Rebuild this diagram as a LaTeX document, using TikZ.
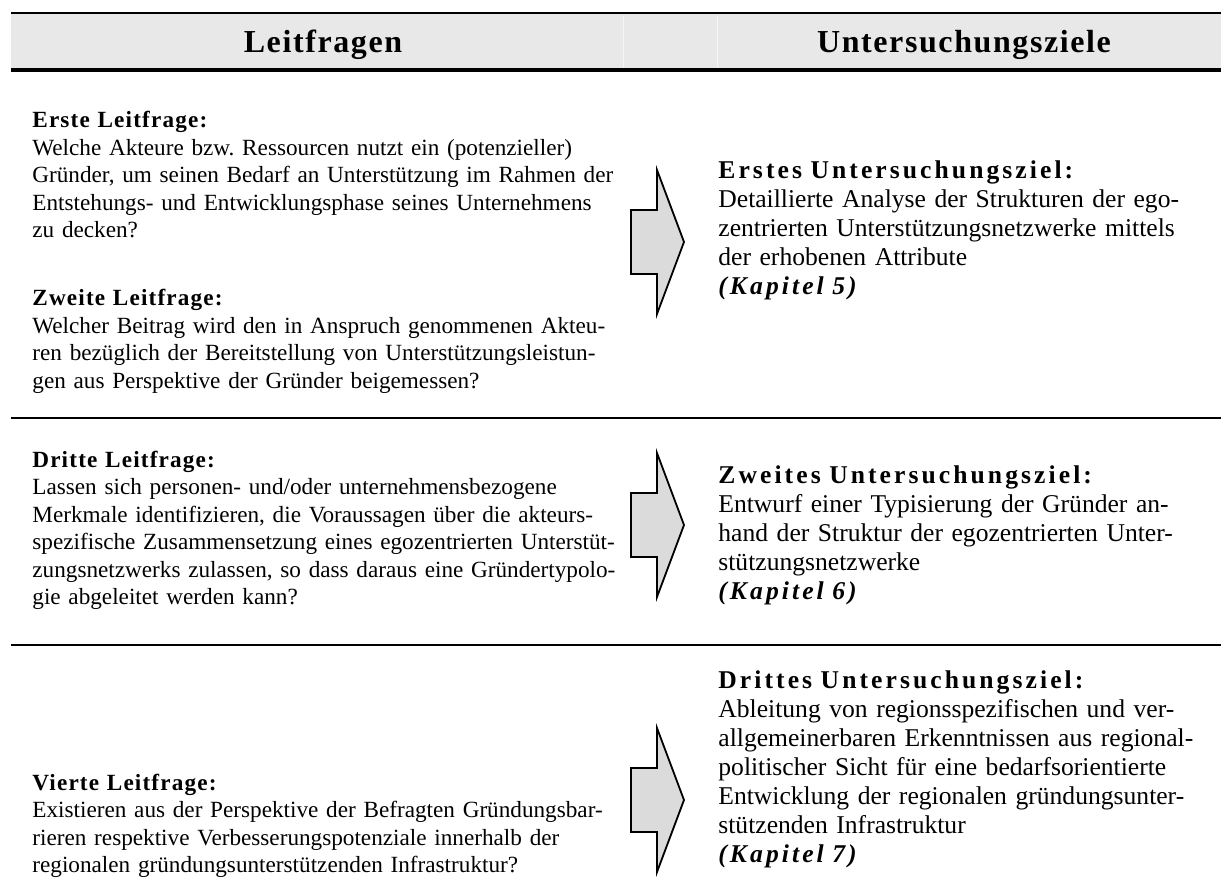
\documentclass[tikz,border=0pt]{standalone}
\usepackage{fontspec}
\setmainfont{Liberation Serif}
\newfontfamily\sperrfont[LetterSpace=5]{Liberation Serif}
\newfontfamily\zielfont[LetterSpace=12]{Liberation Serif}
\usepackage{tikz}
\usetikzlibrary{positioning, calc}
\frenchspacing

\begin{document}
\begin{tikzpicture}[x=0.5pt, y=-0.5pt,
    txt/.style={align=left, anchor=base west, inner sep=0pt},
    links/.style={txt, text width=300pt, font=\fontsize{11.6}{13.75}\selectfont},
    rechts/.style={txt, text width=260pt, font=\fontsize{12.8}{14.5}\selectfont},
    kopf/.style={anchor=base, inner sep=0pt,
      font=\sperrfont\bfseries\fontsize{16}{18}\selectfont},
    regel/.style={line width=1.25pt},
    pfeil/.style={draw=black, line width=0.9pt, fill=gray!28, line join=miter},
    zielpfeil/.pic={
      \draw[pfeil] (-26,-32) -- (0,-32) -- (0,-72) -- (27,0) -- (0,72)
        -- (0,32) -- (-26,32) -- cycle;
    },
  ]
  \newcommand{\frage}[1]{{\sperrfont\bfseries #1}}
  \newcommand{\ziel}[1]{{\zielfont\bfseries #1}}
  \newcommand{\kapitel}[1]{{\zielfont\bfseries\itshape #1}}
  \useasboundingbox (0,0) rectangle (1221,893);

  % Kopfzeile
  \fill[gray!18] (11,13) rectangle (1221,70);
  \draw[white!92!gray, line width=0.5pt] (623,16) -- (623,68) (717,16) -- (717,68);
  \draw[line width=1.1pt] (11,13) -- (1221,13);
  \draw[line width=1.6pt] (11,70) -- (1221,70);
  \node[kopf] (kopfL) at (323,53) {Leitfragen};
  \node[kopf] (kopfR) at (964,53) {Untersuchungsziele};

  % Leitfragen
  \node[links] (frage1) at (32,128) {\frage{Erste Leitfrage:}\\
    Welche Akteure bzw. Ressourcen nutzt ein (potenzieller)\\
    Gründer, um seinen Bedarf an Unterstützung im Rahmen der\\
    Entstehungs- und Entwicklungsphase seines Unternehmens\\
    zu decken?};
  \node[links] (frage2) at (32,306) {\frage{Zweite Leitfrage:}\\
    Welcher Beitrag wird den in Anspruch genommenen Akteu-\\
    ren bezüglich der Bereitstellung von Unterstützungsleistun-\\
    gen aus Perspektive der Gründer beigemessen?};
  \node[links] (frage3) at (32,467) {\frage{Dritte Leitfrage:}\\
    Lassen sich personen- und/oder unternehmensbezogene\\
    Merkmale identifizieren, die Voraussagen über die akteurs-\\
    spezifische Zusammensetzung eines egozentrierten Unterstüt-\\
    zungsnetzwerks zulassen, so dass daraus eine Gründertypolo-\\
    gie abgeleitet werden kann?};
  \node[links] (frage4) at (32,790) {\frage{Vierte Leitfrage:}\\
    Existieren aus der Perspektive der Befragten Gründungsbar-\\
    rieren respektive Verbesserungspotenziale innerhalb der\\
    regionalen gründungsunterstützenden Infrastruktur?};

  % Untersuchungsziele
  \node[rechts] (ziel1) at (718,179) {\ziel{Erstes Untersuchungsziel:}\\
    Detaillierte Analyse der Strukturen der ego-\\
    zentrierten Unterstützungsnetzwerke mittels\\
    der erhobenen Attribute\\
    \kapitel{(Kapitel 5)}};
  \node[rechts] (ziel2) at (718,483) {\ziel{Zweites Untersuchungsziel:}\\
    Entwurf einer Typisierung der Gründer an-\\
    hand der Struktur der egozentrierten Unter-\\
    stützungsnetzwerke\\
    \kapitel{(Kapitel 6)}};
  \node[rechts] (ziel3) at (718,688) {\ziel{Drittes Untersuchungsziel:}\\
    Ableitung von regionsspezifischen und ver-\\
    allgemeinerbaren Erkenntnissen aus regional-\\
    politischer Sicht für eine bedarfsorientierte\\
    Entwicklung der regionalen gründungsunter-\\
    stützenden Infrastruktur\\
    \kapitel{(Kapitel 7)}};

  % Trennlinien und Pfeile
  \foreach \y in {418,645}
    \draw[regel] (11,\y) -- (1221,\y);
  \foreach \y in {242,525,800}
    \pic at (657,\y) {zielpfeil};
\end{tikzpicture}
\end{document}
